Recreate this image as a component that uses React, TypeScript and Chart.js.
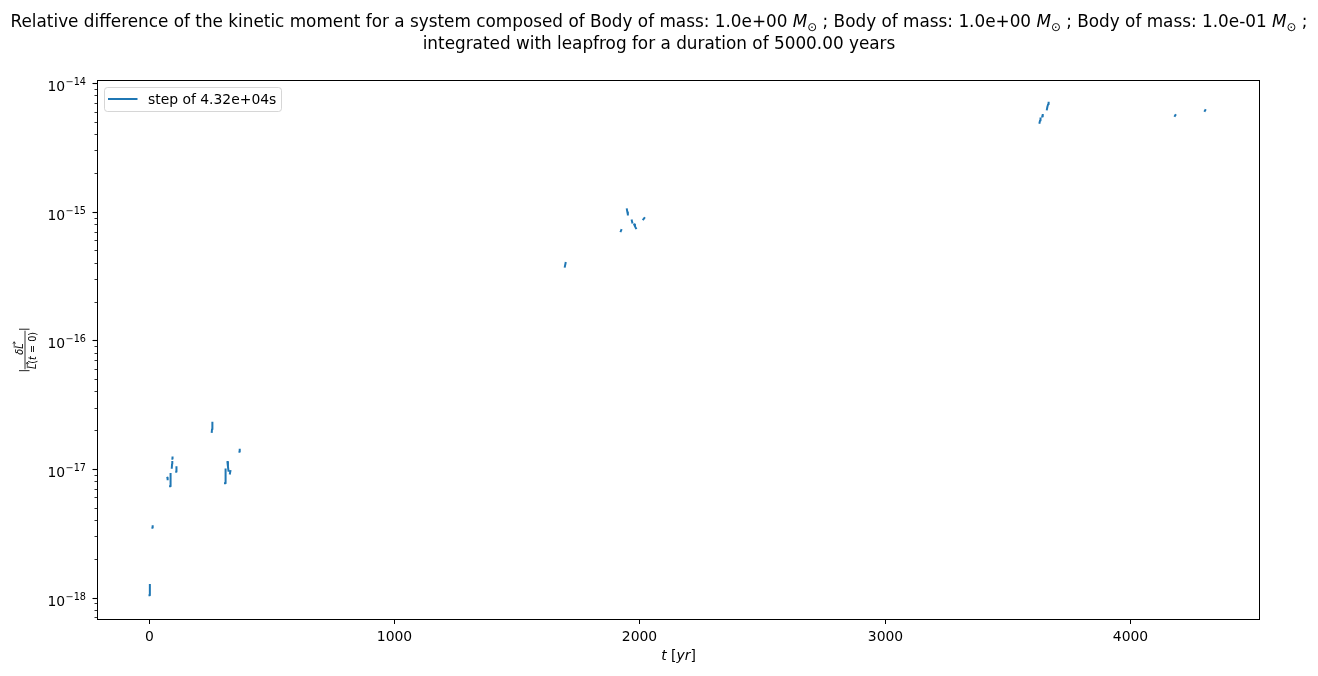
import React, { useEffect, useRef } from "react";
import { Chart, registerables } from "chart.js";

Chart.register(...registerables);

// ---------- data ----------
// time in years; a null value ends one short line piece
const timeYears: number[] = [
  0, 1, 2, 7,
  12, 13, 40,
  73, 74, 79,
  84, 85, 86, 87, 89,
  91, 92, 93, 93.3,
  93.5, 94, 100,
  109, 110, 180,
  254, 255, 256, 257, 280,
  308, 309, 310, 312, 315,
  318, 320, 322, 325,
  328, 330, 350,
  367, 368, 1000,
  1694, 1697, 1800,
  1922, 1924, 1935,
  1947, 1949, 1951, 1960,
  1967, 1969, 1975,
  1977, 1980, 1984, 2000,
  2014, 2018, 3000,
  3630, 3632, 3634, 3638,
  3641, 3643, 3650,
  3660, 3662, 3665, 3667, 3900,
  4182, 4184, 4250,
  4304, 4306,
];

const relativeDiff: (number | null)[] = [
  1.05e-18, 1.15e-18, 1.26e-18, null,
  3.52e-18, 3.62e-18, null,
  8.6e-18, 8.4e-18, null,
  7.4e-18, 8.0e-18, 8.8e-18, 9.2e-18, null,
  1.03e-17, 1.1e-17, 1.14e-17, null,
  1.21e-17, 1.24e-17, null,
  9.6e-18, 1.04e-17, null,
  1.96e-17, 2.05e-17, 2.2e-17, 2.3e-17, null,
  7.8e-18, 8.5e-18, 9.5e-18, 1.0e-17, null,
  1.14e-17, 1.05e-17, 9.8e-18, null,
  9.3e-18, 9.7e-18, null,
  1.37e-17, 1.42e-17, null,
  3.77e-16, 4.02e-16, null,
  7.1e-16, 7.25e-16, null,
  1.05e-15, 1.0e-15, 9.6e-16, null,
  8.6e-16, 8.3e-16, null,
  8.0e-16, 7.75e-16, 7.5e-16, null,
  8.8e-16, 9.0e-16, null,
  4.95e-15, 5.15e-15, 5.35e-15, null,
  5.55e-15, 5.7e-15, null,
  6.3e-15, 6.6e-15, 6.9e-15, 7.1e-15, null,
  5.6e-15, 5.68e-15, null,
  6.12e-15, 6.22e-15,
];

const xTickValues: number[] = [0, 1000, 2000, 3000, 4000];
const yTickExponents: number[] = [-18, -17, -16, -15, -14];
const xLimits: number[] = [-210, 4525];
const yLimits: number[] = [6.87e-19, 1.065e-14];
const legendLabel = "step of 4.32e+04s";
const bodyMasses: string[] = ["1.0e+00", "1.0e+00", "1.0e-01"];
const titleStart = "Relative difference of the kinetic moment for a system composed of";
const titleLine2 = "integrated with leapfrog for a duration of 5000.00 years";
const xAxisLabel = ["t", " [", "yr", "]"];

// ---------- styles ----------
const FONT = '"DejaVu Sans"';
const C0 = "#1f77b4";
const TICK_PX = 13.9;

type Part = { text: string; font: string; dy?: number; w?: number };

function drawRich(ctx: CanvasRenderingContext2D, parts: Part[], cx: number, baseline: number) {
  let total = 0;
  for (const p of parts) {
    ctx.font = p.font;
    p.w = ctx.measureText(p.text).width;
    total += p.w;
  }
  let x = cx - total / 2;
  ctx.textAlign = "left";
  ctx.textBaseline = "alphabetic";
  const pos: number[] = [];
  for (const p of parts) {
    ctx.font = p.font;
    pos.push(x);
    ctx.fillText(p.text, x, baseline + (p.dy || 0));
    x += p.w || 0;
  }
  return pos;
}

function vecArrow(ctx: CanvasRenderingContext2D, x0: number, x1: number, y: number) {
  ctx.beginPath();
  ctx.moveTo(x0, y);
  ctx.lineTo(x1, y);
  ctx.moveTo(x1 - 2, y - 1.3);
  ctx.lineTo(x1, y);
  ctx.lineTo(x1 - 2, y + 1.3);
  ctx.stroke();
}

const decorPlugin = {
  id: "decor",
  afterDraw(chart: any) {
    const ctx = chart.ctx as CanvasRenderingContext2D;
    const { left, right, top, bottom } = chart.chartArea;
    const xs = chart.scales.x;
    const ys = chart.scales.y;
    ctx.save();
    ctx.fillStyle = "#000";
    ctx.strokeStyle = "#000";

    // spines
    ctx.lineWidth = 1;
    ctx.strokeRect(left - 0.5, top + 0.5, right - left + 1, bottom - top);

    // x ticks
    ctx.font = `${TICK_PX}px ${FONT}`;
    ctx.textAlign = "center";
    ctx.textBaseline = "alphabetic";
    for (const t of xs.ticks) {
      const px = Math.floor(xs.getPixelForValue(t.value)) + 0.5;
      ctx.lineWidth = 1;
      ctx.beginPath();
      ctx.moveTo(px, bottom + 1);
      ctx.lineTo(px, bottom + 5);
      ctx.stroke();
      ctx.fillText(String(t.value), px, bottom + 21.5);
    }

    // y ticks
    for (const t of ys.ticks) {
      const py = Math.floor(ys.getPixelForValue(t.value)) + 0.5;
      const lx = left - 0.5;
      ctx.beginPath();
      if (t.major) {
        ctx.lineWidth = 1.1;
        ctx.moveTo(lx - 5, py);
      } else {
        ctx.lineWidth = 0.8;
        ctx.moveTo(lx - 3, py);
      }
      ctx.lineTo(lx, py);
      ctx.stroke();
      if (t.major) {
        const e = Math.round(Math.log10(t.value));
        const expText = "\u2212" + String(Math.abs(e));
        const rx = 86;
        ctx.textAlign = "right";
        ctx.font = `9.7px ${FONT}`;
        const w = ctx.measureText(expText).width;
        ctx.fillText(expText, rx, py + 1.3);
        ctx.font = `${TICK_PX}px ${FONT}`;
        ctx.fillText("10", rx - w - 0.5, py + 7);
      }
    }

    // x axis label
    drawRich(
      ctx,
      [
        { text: xAxisLabel[0], font: `italic ${TICK_PX}px ${FONT}` },
        { text: xAxisLabel[1], font: `${TICK_PX}px ${FONT}` },
        { text: xAxisLabel[2], font: `italic ${TICK_PX}px ${FONT}` },
        { text: xAxisLabel[3], font: `${TICK_PX}px ${FONT}` },
      ],
      (left + right) / 2,
      659.5
    );

    // y axis label |δL / L(t=0)|
    ctx.save();
    ctx.translate(25, 350);
    ctx.rotate(-Math.PI / 2);
    ctx.lineWidth = 0.8;
    ctx.beginPath();
    ctx.moveTo(-19.3, 0);
    ctx.lineTo(19.3, 0);
    ctx.stroke();
    ctx.font = `10.7px ${FONT}`;
    ctx.textAlign = "center";
    ctx.fillText("|", -20.6, 1.5);
    ctx.fillText("|", 20.9, 1.5);
    const fs = 9.7;
    const numPos = drawRich(
      ctx,
      [
        { text: "\u03b4", font: `italic ${fs}px ${FONT}` },
        { text: "L", font: `italic ${fs}px ${FONT}` },
      ],
      1,
      -2.2
    );
    ctx.lineWidth = 0.7;
    vecArrow(ctx, numPos[1] + 1, numPos[1] + 7, -10.8);
    const denPos = drawRich(
      ctx,
      [
        { text: "L", font: `italic ${fs}px ${FONT}` },
        { text: "(", font: `${fs}px ${FONT}` },
        { text: "t", font: `italic ${fs}px ${FONT}` },
        { text: " = ", font: `${fs}px ${FONT}` },
        { text: "0", font: `${fs}px ${FONT}` },
        { text: ")", font: `${fs}px ${FONT}` },
      ],
      -0.5,
      10.8
    );
    vecArrow(ctx, denPos[0] + 1, denPos[0] + 7, 2.3);
    ctx.restore();

    // title
    const tFont = `16.85px ${FONT}`;
    const mFont = `italic 16.85px ${FONT}`;
    const sFont = `11.8px ${FONT}`;
    const parts: Part[] = [{ text: titleStart + " ", font: tFont }];
    bodyMasses.forEach((m, i) => {
      parts.push({ text: (i === 0 ? "" : " ; ") + "Body of mass: " + m + " ", font: tFont });
      parts.push({ text: "M", font: mFont });
      parts.push({ text: "\u2299", font: sFont, dy: 3.5 });
    });
    parts.push({ text: " ;", font: tFont });
    drawRich(ctx, parts, 659, 27);
    drawRich(ctx, [{ text: titleLine2, font: tFont }], 659, 48.5);

    // legend
    ctx.beginPath();
    (ctx as any).roundRect(104.5, 87.5, 177, 24, 3);
    ctx.fillStyle = "rgba(255,255,255,0.8)";
    ctx.fill();
    ctx.strokeStyle = "rgba(204,204,204,0.8)";
    ctx.lineWidth = 1;
    ctx.stroke();
    ctx.strokeStyle = C0;
    ctx.lineWidth = 2;
    ctx.lineCap = "butt";
    ctx.beginPath();
    ctx.moveTo(108, 99);
    ctx.lineTo(137.5, 99);
    ctx.stroke();
    ctx.fillStyle = "#000";
    ctx.font = `${TICK_PX}px ${FONT}`;
    ctx.textAlign = "left";
    ctx.fillText(legendLabel, 148, 104);

    ctx.restore();
  },
};

export default function App() {
  const canvasRef = useRef<HTMLCanvasElement | null>(null);

  useEffect(() => {
    const canvas = canvasRef.current;
    if (!canvas) return;
    const points = timeYears.map((t, i) => ({ x: t, y: relativeDiff[i] }));

    const yTicks: { value: number; major: boolean }[] = [];
    for (let e = -19; e <= -14; e++) {
      for (let k = 1; k <= 9; k++) {
        const v = k * Math.pow(10, e);
        if (v >= yLimits[0] && v <= yLimits[1]) {
          yTicks.push({ value: k === 1 ? Math.pow(10, e) : v, major: k === 1 && yTickExponents.includes(e) });
        }
      }
    }

    const chart = new Chart(canvas, {
      type: "line",
      data: {
        datasets: [
          {
            label: legendLabel,
            data: points as any,
            borderColor: C0,
            backgroundColor: C0,
            borderWidth: 2,
            borderCapStyle: "square",
            borderJoinStyle: "round",
            pointRadius: 0,
            pointHoverRadius: 0,
            spanGaps: false,
            tension: 0,
          },
        ],
      },
      options: {
        animation: false,
        responsive: true,
        maintainAspectRatio: false,
        devicePixelRatio: 1,
        events: [],
        layout: { padding: { top: 80, right: 59, left: 0, bottom: 0 } },
        plugins: {
          legend: { display: false },
          title: { display: false },
          tooltip: { enabled: false },
        },
        scales: {
          x: {
            type: "linear",
            min: xLimits[0],
            max: xLimits[1],
            bounds: "data",
            grid: { display: false },
            border: { display: false },
            ticks: { display: false },
            afterBuildTicks: (scale: any) => {
              scale.ticks = xTickValues.map((v) => ({ value: v }));
            },
            afterFit: (scale: any) => {
              scale.height = 57;
            },
          },
          y: {
            type: "logarithmic",
            min: yLimits[0],
            max: yLimits[1],
            bounds: "data",
            grid: { display: false },
            border: { display: false },
            ticks: { display: false },
            afterBuildTicks: (scale: any) => {
              scale.ticks = yTicks.map((t) => ({ ...t }));
            },
            afterFit: (scale: any) => {
              scale.width = 98;
            },
          },
        },
      },
      plugins: [decorPlugin],
    });

    return () => chart.destroy();
  }, []);

  return (
    <div style={{ position: "fixed", left: 0, top: 0, width: 1318, height: 676, background: "#fff" }}>
      <canvas ref={canvasRef} />
    </div>
  );
}
